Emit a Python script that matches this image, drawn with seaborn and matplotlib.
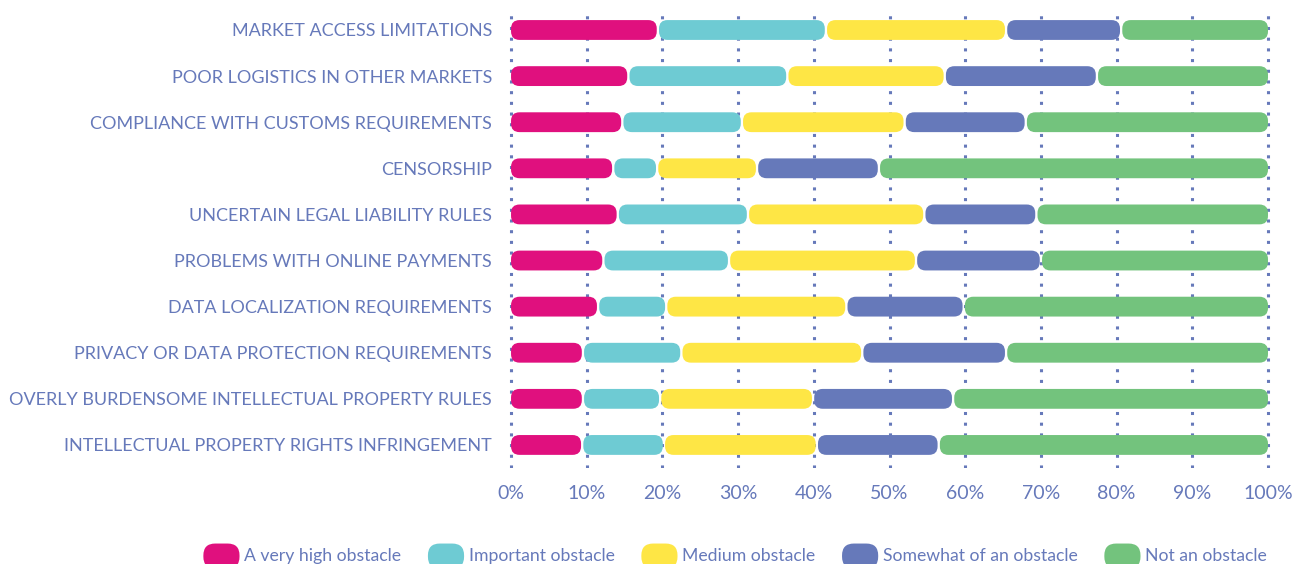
import numpy as np
import pandas as pd
import matplotlib.pyplot as plt
import seaborn as sns
from matplotlib.patches import FancyBboxPatch, Patch
from matplotlib.legend_handler import HandlerPatch

# ---- data (percent of respondents) ----
obstacles = [
    "MARKET ACCESS LIMITATIONS",
    "POOR LOGISTICS IN OTHER MARKETS",
    "COMPLIANCE WITH CUSTOMS REQUIREMENTS",
    "CENSORSHIP",
    "UNCERTAIN LEGAL LIABILITY RULES",
    "PROBLEMS WITH ONLINE PAYMENTS",
    "DATA LOCALIZATION REQUIREMENTS",
    "PRIVACY OR DATA PROTECTION REQUIREMENTS",
    "OVERLY BURDENSOME INTELLECTUAL PROPERTY RULES",
    "INTELLECTUAL PROPERTY RIGHTS INFRINGEMENT",
]
levels = ["A very high obstacle", "Important obstacle", "Medium obstacle",
          "Somewhat of an obstacle", "Not an obstacle"]
very_high = [19.4, 15.5, 14.7, 13.5, 14.1, 12.2, 11.5, 9.5, 9.5, 9.4]
important = [22.2, 21.0, 15.8, 5.8, 17.2, 16.6, 9.0, 13.0, 10.2, 10.8]
medium = [23.8, 20.8, 21.5, 13.2, 23.3, 24.7, 23.8, 23.9, 20.2, 20.2]
somewhat = [15.2, 20.1, 16.0, 16.1, 14.8, 16.5, 15.5, 19.0, 18.5, 16.1]
not_obstacle = [19.4, 22.6, 32.0, 51.4, 30.6, 30.0, 40.2, 34.6, 41.6, 43.5]
xticks = [0, 10, 20, 30, 40, 50, 60, 70, 80, 90, 100]

colors = ["#E0107E", "#6ECBD3", "#FEE645", "#6679BA", "#73C37D"]
text_color = "#6679BA"

sns.set_theme(style="white")
plt.rcParams["font.family"] = ["Lato", "DejaVu Sans"]

fig = plt.figure(figsize=(13.06, 5.64), dpi=100)
ax = fig.add_axes([0.3884, 0.1702, 0.5854, 0.8085])

# pixel -> data scale, for rounded corners
ax_w_px = 0.5854 * 1306
ax_h_px = 0.8085 * 564
x_per_px = 101.0 / ax_w_px
y_per_px = 9.89 / ax_h_px
radius_px = 8.5
gap = 0.15

# stacked segments: one seaborn barplot per level, then swapped for rounded boxes
series = [very_high, important, medium, somewhat, not_obstacle]
left = np.zeros(len(obstacles))
for name, vals, col in zip(levels, series, colors):
    df = pd.DataFrame({"obstacle": obstacles, "share": vals})
    sns.barplot(data=df, y="obstacle", x="share", color=col, saturation=1,
                width=0.43, ax=ax, errorbar=None)
    bars = ax.containers[-1]
    for i, bar in enumerate(bars):
        x0 = left[i] + (gap if left[i] > 0 else 0)
        w = bar.get_width() - gap - (gap if left[i] > 0 else 0)
        if left[i] + bar.get_width() >= 99.9:
            w = 100 - x0
        box = FancyBboxPatch(
            (x0, bar.get_y()), w, bar.get_height(),
            boxstyle=f"round,pad=0,rounding_size={radius_px * x_per_px}",
            mutation_aspect=y_per_px / x_per_px,
            facecolor=col, edgecolor="none", zorder=3)
        ax.add_patch(box)
        bar.remove()
    left += np.array(vals)

ax.set_xlim(-0.5, 100.5)
ax.set_ylim(9.5, -0.39)

# dotted vertical grid
ax.set_xticks(xticks)
ax.set_xticklabels([f"{v}%" for v in xticks])
ax.grid(axis="x", color=text_color, linestyle=(0, (1.0, 2.5)), linewidth=2.2)
ax.grid(axis="y", visible=False)
ax.set_axisbelow(True)
for s in ax.spines.values():
    s.set_visible(False)

ax.set_xlabel("")
ax.set_ylabel("")
ax.tick_params(axis="x", length=0, pad=12, labelsize=14, labelcolor=text_color)
ax.tick_params(axis="y", length=0, pad=11, labelsize=13, labelcolor=text_color)


# legend with pill-shaped keys
def pill(legend, orig_handle, xdescent, ydescent, width, height, fontsize):
    h = 18
    cy = -ydescent + height / 2 - 0.8
    return FancyBboxPatch((-xdescent, cy - h / 2), width, h,
                          boxstyle="round,pad=0,rounding_size=8.5")


handles = [Patch(facecolor=c, edgecolor="none") for c in colors]
fig.legend(handles, levels, loc="center", bbox_to_anchor=(0.563, 0.014),
           ncol=5, frameon=False, fontsize=12.7, handletextpad=0.28,
           handlelength=2.05, columnspacing=1.5, labelcolor=text_color,
           handler_map={Patch: HandlerPatch(patch_func=pill)})

plt.savefig("out.png", dpi=100)
